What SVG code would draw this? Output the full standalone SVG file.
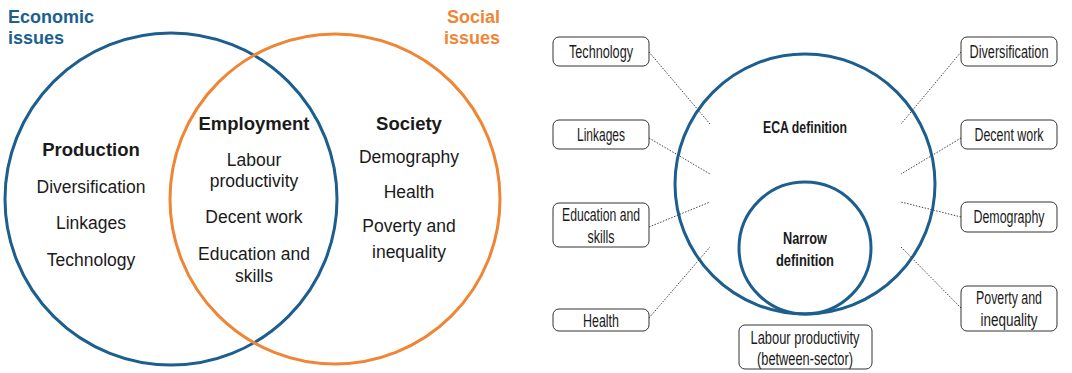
<svg xmlns="http://www.w3.org/2000/svg" width="1072" height="373" viewBox="0 0 1072 373">
  <style>
    .blue { fill: none; stroke: #1c5f8f; stroke-width: 3; }
    .orange { fill: none; stroke: #ef8636; stroke-width: 3; }
    .title { font-family: "Liberation Sans", Arial, sans-serif; font-weight: bold; font-size: 18px; }
    .head { font-family: "Liberation Sans", Arial, sans-serif; font-weight: bold; font-size: 18.5px; fill: #1a1a1a; text-anchor: middle; }
    .item { font-family: "Liberation Sans", Arial, sans-serif; font-size: 17.5px; fill: #1a1a1a; text-anchor: middle; }
    .box { fill: #fff; stroke: #333; stroke-width: 1; }
    .lbl { font-family: "Liberation Sans", Arial, sans-serif; font-size: 17.5px; fill: #1a1a1a; text-anchor: middle; }
    .blbl { font-family: "Liberation Sans", Arial, sans-serif; font-size: 17px; font-weight: bold; fill: #1a1a1a; text-anchor: middle; }
    .dot { stroke: #444; stroke-width: 1; stroke-dasharray: 1.5 1.5; fill: none; }
  </style>

  <!-- Venn diagram: economic and social issues -->
  <g id="venn-economic">
    <circle class="blue" cx="171" cy="199" r="166"/>
    <text class="title" x="8" y="23" fill="#1c5f8f">Economic</text>
    <text class="title" x="8" y="44" fill="#1c5f8f">issues</text>
  </g>
  <g id="venn-social">
    <circle class="orange" cx="335" cy="199" r="165"/>
    <text class="title" x="500" y="23" fill="#ef8636" text-anchor="end">Social</text>
    <text class="title" x="500" y="44" fill="#ef8636" text-anchor="end">issues</text>
  </g>
  <g id="production">
    <text class="head" x="91" y="156">Production</text>
    <text class="item" x="91" y="193">Diversification</text>
    <text class="item" x="91" y="229">Linkages</text>
    <text class="item" x="91" y="266">Technology</text>
  </g>
  <g id="employment">
    <text class="head" x="254" y="130">Employment</text>
    <text class="item" x="254" y="166">Labour</text>
    <text class="item" x="254" y="187">productivity</text>
    <text class="item" x="254" y="223">Decent work</text>
    <text class="item" x="254" y="260">Education and</text>
    <text class="item" x="254" y="282">skills</text>
  </g>
  <g id="society">
    <text class="head" x="409" y="130">Society</text>
    <text class="item" x="409" y="163">Demography</text>
    <text class="item" x="409" y="198">Health</text>
    <text class="item" x="409" y="232">Poverty and</text>
    <text class="item" x="409" y="258">inequality</text>
  </g>

  <!-- Nested definitions -->
  <g id="eca-definition">
    <circle class="blue" cx="805" cy="184" r="130"/>
    <text class="blbl" x="805" y="133" textLength="84" lengthAdjust="spacingAndGlyphs">ECA definition</text>
  </g>
  <g id="narrow-definition">
    <circle class="blue" cx="805" cy="248" r="66"/>
    <text class="blbl" x="805" y="244" textLength="44" lengthAdjust="spacingAndGlyphs">Narrow</text>
    <text class="blbl" x="805" y="266" textLength="58" lengthAdjust="spacingAndGlyphs">definition</text>
  </g>

  <!-- Dotted leaders -->
  <g id="connectors">
    <line class="dot" x1="649" y1="52" x2="710" y2="124"/>
    <line class="dot" x1="649" y1="138" x2="710" y2="174"/>
    <line class="dot" x1="649" y1="227" x2="710" y2="202"/>
    <line class="dot" x1="649" y1="318" x2="710" y2="247"/>
    <line class="dot" x1="961" y1="52" x2="901" y2="124"/>
    <line class="dot" x1="961" y1="138" x2="901" y2="174"/>
    <line class="dot" x1="961" y1="217" x2="901" y2="202"/>
    <line class="dot" x1="961" y1="308" x2="901" y2="247"/>
  </g>

  <!-- Left labels -->
  <g id="technology">
    <rect class="box" x="553" y="37" width="96" height="29" rx="6"/>
    <text class="lbl" x="601" y="58" textLength="64" lengthAdjust="spacingAndGlyphs">Technology</text>
  </g>
  <g id="linkages">
    <rect class="box" x="553" y="120" width="96" height="29" rx="6"/>
    <text class="lbl" x="601" y="141" textLength="48" lengthAdjust="spacingAndGlyphs">Linkages</text>
  </g>
  <g id="education">
    <rect class="box" x="553" y="203" width="96" height="44" rx="6"/>
    <text class="lbl" x="601" y="221" textLength="78" lengthAdjust="spacingAndGlyphs">Education and</text>
    <text class="lbl" x="601" y="243" textLength="27" lengthAdjust="spacingAndGlyphs">skills</text>
  </g>
  <g id="health">
    <rect class="box" x="553" y="309" width="96" height="22" rx="6"/>
    <text class="lbl" x="601" y="327" textLength="36" lengthAdjust="spacingAndGlyphs">Health</text>
  </g>

  <!-- Right labels -->
  <g id="diversification">
    <rect class="box" x="961" y="37" width="96" height="29" rx="6"/>
    <text class="lbl" x="1009" y="58" textLength="79" lengthAdjust="spacingAndGlyphs">Diversification</text>
  </g>
  <g id="decent-work">
    <rect class="box" x="961" y="120" width="96" height="29" rx="6"/>
    <text class="lbl" x="1009" y="141" textLength="69" lengthAdjust="spacingAndGlyphs">Decent work</text>
  </g>
  <g id="demography">
    <rect class="box" x="961" y="202" width="96" height="30" rx="6"/>
    <text class="lbl" x="1009" y="223" textLength="71" lengthAdjust="spacingAndGlyphs">Demography</text>
  </g>
  <g id="poverty">
    <rect class="box" x="961" y="286" width="96" height="45" rx="6"/>
    <text class="lbl" x="1009" y="304" textLength="66" lengthAdjust="spacingAndGlyphs">Poverty and</text>
    <text class="lbl" x="1009" y="326" textLength="57" lengthAdjust="spacingAndGlyphs">inequality</text>
  </g>

  <!-- Bottom label -->
  <g id="labour-productivity">
    <rect class="box" x="739" y="325" width="133" height="44" rx="6"/>
    <text class="lbl" x="805" y="344" textLength="109" lengthAdjust="spacingAndGlyphs">Labour productivity</text>
    <text class="lbl" x="805" y="365" textLength="96" lengthAdjust="spacingAndGlyphs">(between-sector)</text>
  </g>
</svg>
